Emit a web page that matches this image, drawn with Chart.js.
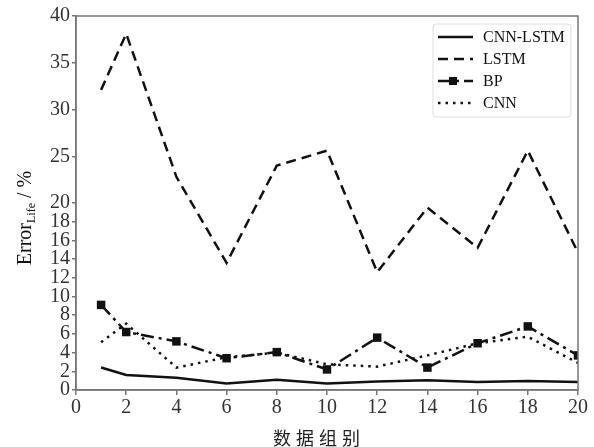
<!DOCTYPE html>
<html>
<head>
<meta charset="utf-8">
<script src="https://cdn.jsdelivr.net/npm/chart.js@4.4.1/dist/chart.umd.min.js"></script>
<style>
  body { margin: 0; background: #fff; }
  canvas { display: block; }
</style>
</head>
<body>
<canvas id="chart" width="594" height="447"></canvas>
<script>
// 数据组别 (x) と各モデルの誤差 (%)
const groups = [1, 2, 4, 6, 8, 10, 12, 14, 16, 18, 20];
const cnnLstm = [2.4, 1.6, 1.3, 0.7, 1.1, 0.7, 0.9, 1.05, 0.85, 0.95, 0.85];
const lstm = [32.1, 38.1, 22.8, 13.6, 24.0, 25.6, 12.6, 19.5, 15.2, 25.6, 14.7];
const bp = [9.1, 6.2, 5.2, 3.4, 4.05, 2.2, 5.6, 2.4, 5.0, 6.8, 3.7];
const cnn = [5.1, 7.1, 2.4, 3.5, 4.0, 2.75, 2.5, 3.7, 5.0, 5.7, 2.9];

const xTicks = [0, 2, 4, 6, 8, 10, 12, 14, 16, 18, 20];
const yTicks = [0, 2, 4, 6, 8, 10, 12, 14, 16, 18, 20, 25, 30, 35, 40];

const serif = "'Liberation Serif', 'DejaVu Serif', serif";
const ink = "#111";

const toPoints = (vals) => groups.map((g, i) => ({ x: g, y: vals[i] }));

const datasets = [
  { label: "CNN-LSTM", data: toPoints(cnnLstm), borderDash: [], pointRadius: 0 },
  { label: "LSTM", data: toPoints(lstm), borderDash: [10, 6], pointRadius: 0 },
  { label: "BP", data: toPoints(bp), borderDash: [13, 5, 3, 5], pointRadius: 6, pointStyle: "rect" },
  { label: "CNN", data: toPoints(cnn), borderDash: [2.5, 5], pointRadius: 0 },
].map((d) => ({
  ...d,
  borderColor: ink,
  backgroundColor: ink,
  borderWidth: 2.5,
  tension: 0,
  pointBorderWidth: 0,
}));

// 枠線・凡例・軸タイトルを描くプラグイン
const decor = {
  id: "decor",
  afterDraw(chart) {
    const { ctx, chartArea: a } = chart;
    ctx.save();
    ctx.strokeStyle = "#777";
    ctx.lineWidth = 1.5;
    ctx.strokeRect(a.left, a.top, a.right - a.left, a.bottom - a.top);

    // legend
    const lx = 433, ly = 24, lw = 138, lh = 93;
    ctx.strokeStyle = "#ddd";
    ctx.lineWidth = 1;
    ctx.beginPath();
    ctx.roundRect(lx, ly, lw, lh, 3);
    ctx.stroke();
    ctx.font = "16px " + serif;
    ctx.textBaseline = "middle";
    ctx.fillStyle = ink;
    chart.data.datasets.forEach((d, i) => {
      const y = 37 + i * 22;
      ctx.strokeStyle = ink;
      ctx.lineWidth = 2.5;
      ctx.setLineDash(d.borderDash);
      ctx.beginPath();
      ctx.moveTo(438, y);
      ctx.lineTo(473, y);
      ctx.stroke();
      ctx.setLineDash([]);
      if (d.pointStyle === "rect") ctx.fillRect(449, y - 4, 8, 8);
      ctx.fillText(d.label, 483, y + 1);
    });

    // y axis title with subscript
    const big = "20px " + serif, small = "12px " + serif;
    ctx.font = big;
    const w1 = ctx.measureText("Error").width;
    const w3 = ctx.measureText(" / %").width;
    ctx.font = small;
    const w2 = ctx.measureText("Life").width;
    const total = w1 + w2 + w3;
    ctx.translate(31, 218);
    ctx.rotate(-Math.PI / 2);
    ctx.textBaseline = "alphabetic";
    ctx.textAlign = "left";
    let x0 = -total / 2;
    ctx.font = big;
    ctx.fillText("Error", x0, 0);
    ctx.font = small;
    ctx.fillText("Life", x0 + w1, 4);
    ctx.font = big;
    ctx.fillText(" / %", x0 + w1 + w2, 0);
    ctx.restore();

    // x axis title
    ctx.save();
    ctx.font = "18px 'Noto Sans CJK SC', sans-serif";
    ctx.fillStyle = "#222";
    ctx.textBaseline = "middle";
    const chars = ["数", "据", "组", "别"];
    chars.forEach((c, i) => ctx.fillText(c, 273 + i * 23, 438));
    ctx.restore();
  },
};

new Chart(document.getElementById("chart"), {
  type: "line",
  data: { datasets },
  options: {
    responsive: false,
    animation: false,
    layout: { padding: { left: 0, right: 16, top: 16, bottom: 0 } },
    plugins: { legend: { display: false }, tooltip: { enabled: false } },
    scales: {
      x: {
        type: "linear",
        min: 0,
        max: 20,
        afterBuildTicks: (s) => { s.ticks = xTicks.map((v) => ({ value: v })); },
        afterFit: (s) => { s.height = 57; },
        grid: { drawOnChartArea: false, drawTicks: true, tickLength: 5, color: "#777", lineWidth: 1.5 },
        border: { color: "#777", width: 1.5 },
        ticks: { color: "#333", font: { family: serif, size: 20 }, padding: 1, maxRotation: 0 },
      },
      y: {
        type: "linear",
        min: 0,
        max: 40,
        afterBuildTicks: (s) => { s.ticks = yTicks.map((v) => ({ value: v })); },
        afterFit: (s) => { s.width = 76; },
        grid: { drawOnChartArea: false, drawTicks: true, tickLength: 4, color: "#777", lineWidth: 1.5 },
        border: { color: "#777", width: 1.5 },
        ticks: { color: "#333", font: { family: serif, size: 20 }, padding: 2, autoSkip: false },
      },
    },
  },
  plugins: [decor],
});
</script>
</body>
</html>
